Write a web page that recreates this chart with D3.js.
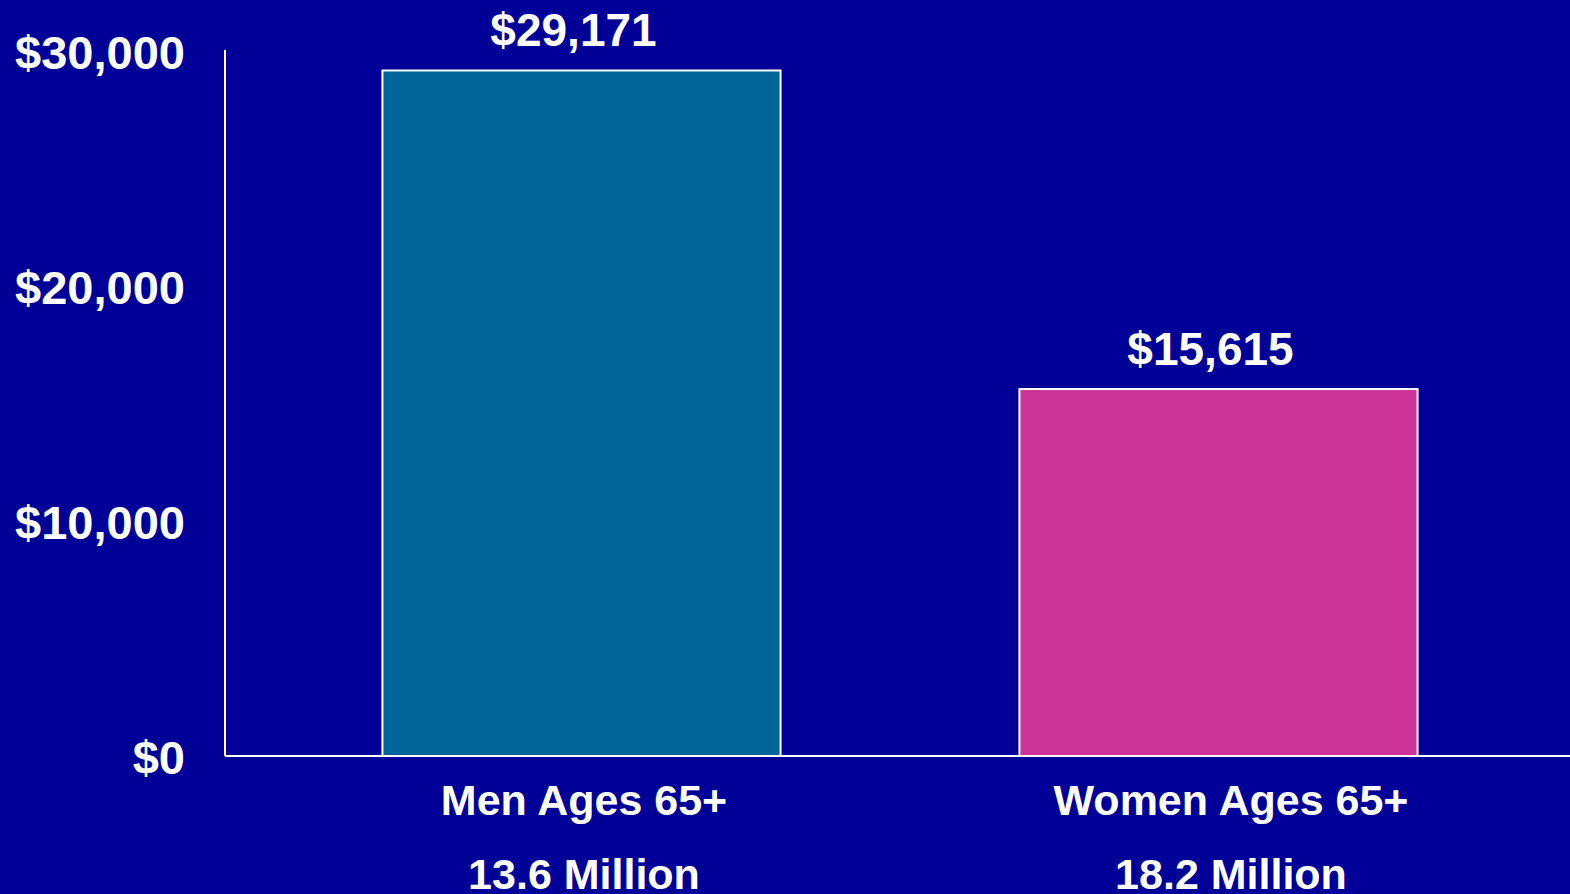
<!DOCTYPE html>
<html>
<head>
<meta charset="utf-8">
<script src="https://cdn.jsdelivr.net/npm/d3@7"></script>
<style>
  html, body { margin: 0; padding: 0; background: #000099; overflow: hidden; }
  svg { display: block; }
  text { font-family: "Liberation Sans", Arial, sans-serif; font-weight: bold; fill: #ffffff; }
</style>
</head>
<body>
<svg id="chart"></svg>
<script>
// chart data
var groups = ["Men Ages 65+", "Women Ages 65+"];
var counts = ["13.6 Million", "18.2 Million"];
var incomes = [29171, 15615];
var barColors = ["#006699", "#CC3399"];
var yTicks = [0, 10000, 20000, 30000];

var width = 1570, height = 894;
var x0 = 225, yBase = 756, yTop = 51;

var svg = d3.select("#chart")
    .attr("width", width)
    .attr("height", height);

var x = d3.scaleBand()
    .domain(groups)
    .range([263, 1537])
    .paddingInner(0.375)
    .paddingOuter(0.1875);

// category labels sit a bit right of the bars, like the original slide
var xLab = d3.scalePoint()
    .domain(groups)
    .range([584, 1231]);

var y = d3.scaleLinear()
    .domain([0, 30000])
    .range([yBase, yTop]);

var fmt = d3.format("$,d");

// y tick labels
svg.append("g")
  .selectAll("text")
  .data(yTicks)
  .join("text")
    .attr("x", 185)
    .attr("y", d => y(d))
    .attr("dy", "0.38em")
    .attr("text-anchor", "end")
    .attr("font-size", 47)
    .text(d => fmt(d));

// bars
svg.append("g")
  .selectAll("rect")
  .data(groups)
  .join("rect")
    .attr("x", d => x(d))
    .attr("y", (d, i) => y(incomes[i]))
    .attr("width", x.bandwidth())
    .attr("height", (d, i) => yBase - y(incomes[i]))
    .attr("fill", (d, i) => barColors[i])
    .attr("stroke", "#ffffff")
    .attr("stroke-width", 2);

// value labels
svg.append("g")
  .selectAll("text")
  .data(groups)
  .join("text")
    .attr("x", d => x(d) + x.bandwidth() / 2 - 8)
    .attr("y", (d, i) => y(incomes[i]) - 24)
    .attr("text-anchor", "middle")
    .attr("font-size", 46)
    .text((d, i) => fmt(incomes[i]));

// axis lines
svg.append("line")
    .attr("x1", x0).attr("x2", x0)
    .attr("y1", yTop - 1).attr("y2", yBase)
    .attr("stroke", "#ffffff").attr("stroke-width", 2);
svg.append("line")
    .attr("x1", x0).attr("x2", width)
    .attr("y1", yBase).attr("y2", yBase)
    .attr("stroke", "#ffffff").attr("stroke-width", 2);

// category labels
var cat = svg.append("g")
  .selectAll("g")
  .data(groups)
  .join("g")
    .attr("transform", d => "translate(" + xLab(d) + ",0)");

cat.append("text")
    .attr("y", 815)
    .attr("text-anchor", "middle")
    .attr("font-size", 43)
    .text(d => d);

cat.append("text")
    .attr("y", 889)
    .attr("text-anchor", "middle")
    .attr("font-size", 43)
    .text((d, i) => counts[i]);
</script>
</body>
</html>
